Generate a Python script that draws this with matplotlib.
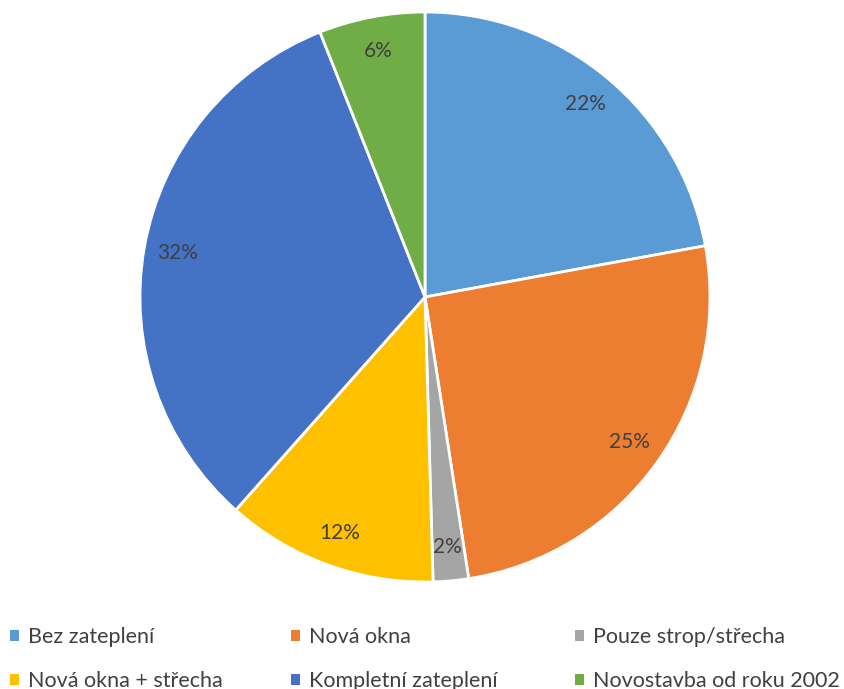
import matplotlib.pyplot as plt
from matplotlib.patches import Patch

plt.rcParams['font.family'] = ['Lato', 'DejaVu Sans']

# podíly
labels = ['Bez zateplení', 'Nová okna', 'Pouze strop/střecha',
          'Nová okna + střecha', 'Kompletní zateplení', 'Novostavba od roku 2002']
shares = [22.1, 25.4, 2.0, 12.0, 32.4, 6.0]
colors = ['#5B9BD5', '#ED7D31', '#A5A5A5', '#FFC000', '#4472C4', '#70AD47']

W, H = 845, 689
fig = plt.figure(figsize=(W / 100, H / 100), dpi=100)

# pie axes: center (425, 297) px, radius 285 px
cx, cy, r = 425, 297, 285
ax = fig.add_axes([(cx - r) / W, (H - cy - r) / H, 2 * r / W, 2 * r / H])
wedges, texts, autotexts = ax.pie(
    shares, colors=colors, startangle=90, counterclock=False,
    autopct='%.0f%%', pctdistance=0.88,
    wedgeprops=dict(edgecolor='white', linewidth=2.0),
    textprops=dict(color='#404040', fontsize=15))
ax.set_xlim(-1, 1)
ax.set_ylim(-1, 1)
ax.axis('off')

# legend: three columns, two rows
col_x = [10, 291, 575]
for i in range(3):
    handles = [Patch(facecolor=colors[j], edgecolor='none') for j in (i, i + 3)]
    fig.legend(handles, [labels[i], labels[i + 3]],
               loc='center left', bbox_to_anchor=(col_x[i] / W, 1 - 659 / H),
               frameon=False, fontsize=15.5, labelcolor='#404040',
               handlelength=0.42, handleheight=0.42, handletextpad=0.42,
               labelspacing=1.1, borderpad=0, borderaxespad=0)

fig.savefig('out.png', dpi=100)
